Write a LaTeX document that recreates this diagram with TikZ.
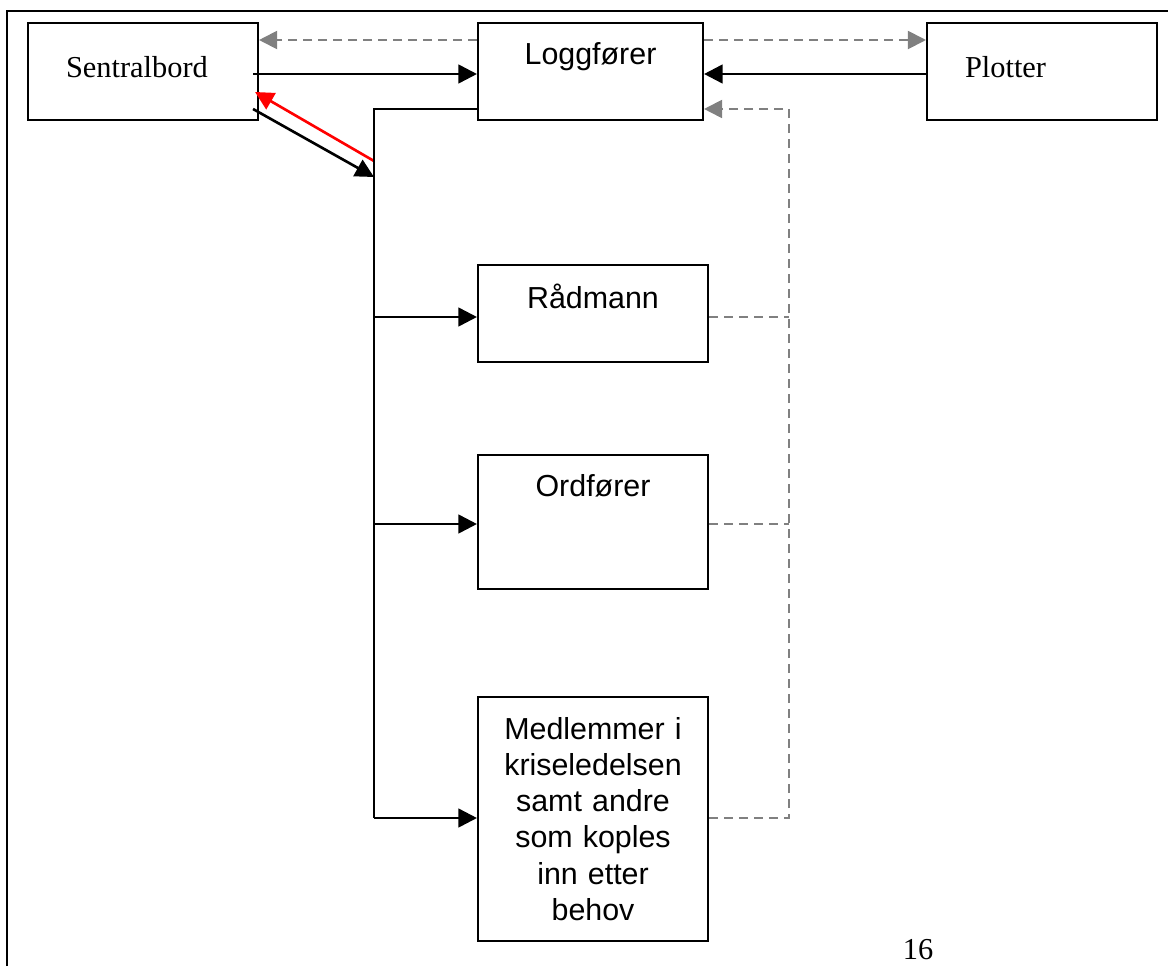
\documentclass[tikz,border=0pt]{standalone}
\usepackage{fontspec}
\setmainfont{Liberation Serif}
\setsansfont{Liberation Sans}
\usetikzlibrary{arrows.meta,calc}

\tikzset{
  box/.style={draw, line width=1.2pt, inner sep=0pt, minimum width=4.6cm},
  serifbox/.style={box, align=left, text width=3.08cm, inner xsep=0.76cm,
    text height=1.1cm, text depth=0.84cm, font=\fontsize{17.3}{20.6}\selectfont},
  sansbox/.style={box, align=center, font=\sffamily\fontsize{17.3}{20.6}\selectfont},
  link/.style={-{Triangle[length=0.37cm,width=0.37cm]}, line width=1.5pt},
  feed/.style={gray, line width=1.1pt, dash pattern=on 0.18cm off 0.12cm},
}

\begin{document}
\begin{tikzpicture}[x=0.02cm, y=-0.02cm]

\useasboundingbox (0,0) rectangle (1168,966);
\draw [line width=1.1pt] (7,966) -- (7,11) -- (1168,11);

\node [serifbox] (sentral) at (143,71.5) {Sentralbord};
\node [sansbox, minimum width=4.5cm, text height=0.84cm, text depth=1.1cm] (logg) at (590.5,71.5) {Loggfører};
\node [serifbox] (plotter) at (1042,71.5) {Plotter};
\node [sansbox, text height=0.86cm, text depth=1.08cm] (raad) at (593,313.5) {Rådmann};
\node [sansbox, text height=0.83cm, text depth=1.84cm] (ord) at (593,522) {Ordfører};
\node [sansbox, minimum height=4.88cm, text width=4.2cm] (medl) at (593,819)
  {Medlemmer i\\kriseledelsen\\samt andre\\som koples\\inn etter\\behov};
\node [font=\fontsize{17.3}{20.6}\selectfont] (side) at (918,950) {16};

\coordinate (bus) at (374,818);
\coordinate (busin) at (374,177);
\coordinate (busout) at (374,161);
\coordinate (dbus) at (789,818);

% ordrer og meldinger
\draw [link] ([xshift=-0.12cm,yshift=-0.05cm]sentral.east) -- ([yshift=-0.05cm]logg.west);
\draw [link] ([yshift=-0.05cm]plotter.west) -- ([yshift=-0.05cm]logg.east);
\draw [link] ([xshift=-0.12cm,yshift=-0.75cm]sentral.east) -- (busin);
\draw [link, red] (busout) -- ([xshift=-0.08cm,yshift=-0.41cm]sentral.east);

\draw [line width=1.1pt] ([yshift=-0.75cm]logg.west) -| (bus);
\draw [link] ([yshift=-0.07cm]raad.west -| bus) -- ([yshift=-0.07cm]raad.west);
\draw [link] ([yshift=-0.04cm]ord.west -| bus) -- ([yshift=-0.04cm]ord.west);
\draw [link] (bus) -- ([yshift=0.02cm]medl.west);

% tilbakemelding
\draw [feed, -{Triangle[length=0.36cm,width=0.36cm]}] ([yshift=0.63cm]logg.west) -- ([yshift=0.63cm]sentral.east);
\draw [feed, -{Triangle[length=0.36cm,width=0.36cm]}] ([yshift=0.63cm]logg.east) -- ([yshift=0.63cm]plotter.west);
\draw [feed, -{Triangle[length=0.36cm,width=0.36cm]}] ([yshift=0.02cm]medl.east) -| (dbus) |- ([yshift=-0.75cm]logg.east);
\draw [feed] ([yshift=-0.07cm]raad.east) -- ([yshift=-0.07cm]raad.east -| dbus);
\draw [feed] ([yshift=-0.04cm]ord.east) -- ([yshift=-0.04cm]ord.east -| dbus);

\end{tikzpicture}
\end{document}
